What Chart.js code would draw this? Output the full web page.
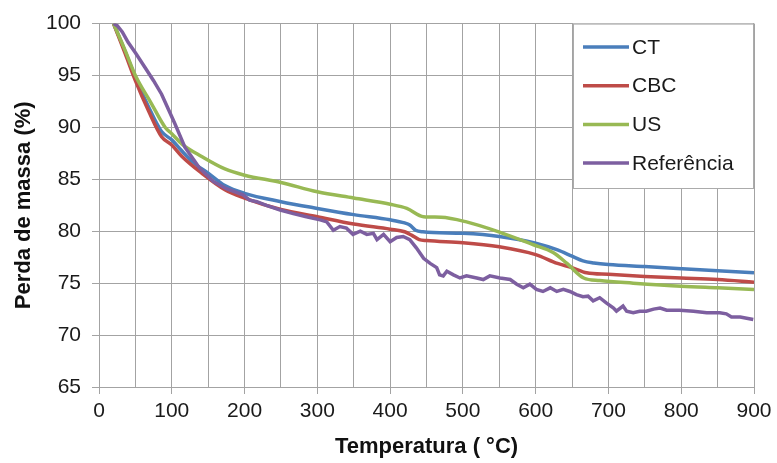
<!DOCTYPE html>
<html>
<head>
<meta charset="utf-8">
<script src="https://cdn.jsdelivr.net/npm/chart.js@4.4.1/dist/chart.umd.min.js"></script>
<style>
html,body{margin:0;padding:0;background:#ffffff;}
canvas{display:block;}
</style>
</head>
<body>
<canvas id="c" width="777" height="463"></canvas>
<script>
// ---- data ----
const seriesNames = ['CT', 'CBC', 'US', 'Referência'];

const ctTemp = [20,36,50,68,86,100,113,130,150,173,200,250,300,350,400,420,427,435,445,500,550,600,630,650,665,680,700,750,800,850,900];
const ctMass = [100,97.3,94.8,92.0,89.6,88.8,87.8,86.6,85.6,84.4,83.65,82.85,82.2,81.6,81.1,80.8,80.6,80.1,79.95,79.8,79.5,78.85,78.2,77.6,77.15,76.95,76.8,76.6,76.4,76.2,76.0];

const cbcTemp = [20,36,50,68,86,100,114,141,173,200,250,300,350,400,420,430,440,450,500,550,600,630,650,670,700,750,800,850,900];
const cbcMass = [100,97.1,94.5,91.6,89.1,88.3,87.2,85.6,84.0,83.2,82.1,81.4,80.7,80.2,79.95,79.6,79.2,79.1,78.9,78.5,77.75,76.9,76.5,76.0,75.85,75.65,75.5,75.35,75.1];

const usTemp = [20,36,50,72,91,100,114,141,173,200,250,300,350,400,423,446,470,505,551,597,624,643,666,688,734,800,850,900];
const usMass = [100,97.4,95.0,92.3,90.0,89.4,88.4,87.2,86.0,85.4,84.7,83.8,83.2,82.6,82.2,81.4,81.35,80.9,79.9,78.7,77.95,76.9,75.5,75.25,75.0,74.7,74.55,74.4];

const refTemp = [20,25,32,40,50,63,75,86,95,104,118,128,138,157,175,198,207,217,230,249,267,285,304,313,322,331,340,349,359,368,377,382,391,400,409,418,427,436,446,455,464,468,473,478,487,496,505,519,528,537,551,565,574,583,592,601,610,620,629,638,647,656,665,672,679,688,697,707,711,720,725,734,743,752,762,771,780,798,817,835,853,862,869,881,899];
const refMass = [100,99.8,99.2,98.2,97.2,95.8,94.5,93.2,91.8,90.4,88.1,87.1,86.1,84.8,84.1,83.5,83.0,82.85,82.5,82.05,81.7,81.4,81.1,80.9,80.1,80.45,80.3,79.7,80.0,79.7,79.8,79.2,79.7,79.0,79.4,79.5,79.2,78.4,77.4,76.9,76.5,75.8,75.7,76.15,75.8,75.5,75.7,75.5,75.35,75.7,75.5,75.35,74.9,74.55,74.9,74.4,74.2,74.55,74.2,74.4,74.2,73.9,73.7,73.75,73.3,73.6,73.1,72.6,72.3,72.8,72.3,72.15,72.3,72.3,72.5,72.6,72.4,72.4,72.3,72.15,72.15,72.05,71.75,71.75,71.5];

const xTickValues = [0,100,200,300,400,500,600,700,800,900];
const yTickValues = [65,70,75,80,85,90,95,100];

// ---- styling ----
const colors = ['#4a7ebb', '#be4b48', '#98b954', '#7d5fa0'];
const FONT = "'Liberation Sans', Arial, sans-serif";
const GRID = '#a3a3a3';

function pts(xs, ys) { return xs.map((x, i) => ({ x: x, y: ys[i] })); }

const datasets = [
  { label: seriesNames[0], data: pts(ctTemp, ctMass), borderColor: colors[0], order: 4, cubicInterpolationMode: 'monotone' },
  { label: seriesNames[1], data: pts(cbcTemp, cbcMass), borderColor: colors[1], order: 3, cubicInterpolationMode: 'monotone' },
  { label: seriesNames[2], data: pts(usTemp, usMass), borderColor: colors[2], order: 2, cubicInterpolationMode: 'monotone' },
  { label: seriesNames[3], data: pts(refTemp, refMass), borderColor: colors[3], order: 1, tension: 0 }
].map(d => Object.assign({ borderWidth: 3.5, pointRadius: 0, fill: false, backgroundColor: d.borderColor }, d));

const boxLegend = {
  id: 'boxLegend',
  afterDraw(chart) {
    const ctx = chart.ctx;
    const a = chart.chartArea;
    const x0 = 573, y0 = a.top, x1 = a.right - 1, y1 = 188;
    ctx.save();
    ctx.fillStyle = '#ffffff';
    ctx.fillRect(x0, y0, x1 - x0, y1 - y0);
    ctx.strokeStyle = '#ababab';
    ctx.lineWidth = 1;
    ctx.strokeRect(x0 + 0.5, y0 + 0.5, x1 - x0, y1 - y0);
    ctx.font = '21px ' + FONT;
    ctx.textBaseline = 'middle';
    ctx.textAlign = 'left';
    chart.data.datasets.forEach((ds, i) => {
      const y = 47 + i * 38.7;
      ctx.strokeStyle = ds.borderColor;
      ctx.lineWidth = 3.5;
      ctx.beginPath();
      ctx.moveTo(583, y);
      ctx.lineTo(629, y);
      ctx.stroke();
      ctx.fillStyle = '#1a1a1a';
      ctx.fillText(ds.label, 632, y + 1);
    });
    ctx.restore();
  }
};

new Chart(document.getElementById('c'), {
  type: 'line',
  data: { datasets: datasets },
  plugins: [boxLegend],
  options: {
    responsive: false,
    animation: false,
    events: [],
    layout: { padding: { top: 21, right: 23, left: 0, bottom: 0 } },
    plugins: { legend: { display: false }, tooltip: { enabled: false } },
    scales: {
      x: {
        type: 'linear',
        min: 0, max: 900,
        afterFit: s => { s.height = 76; },
        afterBuildTicks: s => {
          const t = [];
          for (let v = 0; v <= 900; v += 50) t.push({ value: v });
          s.ticks = t;
        },
        ticks: {
          autoSkip: false, maxRotation: 0, padding: 5,
          color: '#1a1a1a',
          font: { family: FONT, size: 21 },
          callback: v => (xTickValues.includes(v) ? String(v) : '')
        },
        grid: {
          color: GRID, lineWidth: 1, tickLength: 7,
          tickColor: c => (c.tick && xTickValues.includes(c.tick.value)) ? GRID : 'rgba(0,0,0,0)'
        },
        border: { color: GRID, width: 1 },
        title: {
          display: true, text: 'Temperatura ( °C)', color: '#111',
          font: { family: FONT, size: 22, weight: 'bold' },
          padding: { top: 0, bottom: 3 }
        }
      },
      y: {
        min: 65, max: 100,
        afterFit: s => { s.width = 99; },
        afterBuildTicks: s => { s.ticks = yTickValues.map(v => ({ value: v })); },
        ticks: {
          padding: 11, color: '#1a1a1a',
          font: { family: FONT, size: 21 }
        },
        grid: { color: GRID, lineWidth: 1, tickLength: 7, tickColor: GRID },
        border: { color: GRID, width: 1 },
        title: {
          display: true, text: 'Perda de massa (%)', color: '#111',
          font: { family: FONT, size: 22, weight: 'bold' },
          padding: { top: 11, bottom: 0 }
        }
      }
    }
  }
});
</script>
</body>
</html>
